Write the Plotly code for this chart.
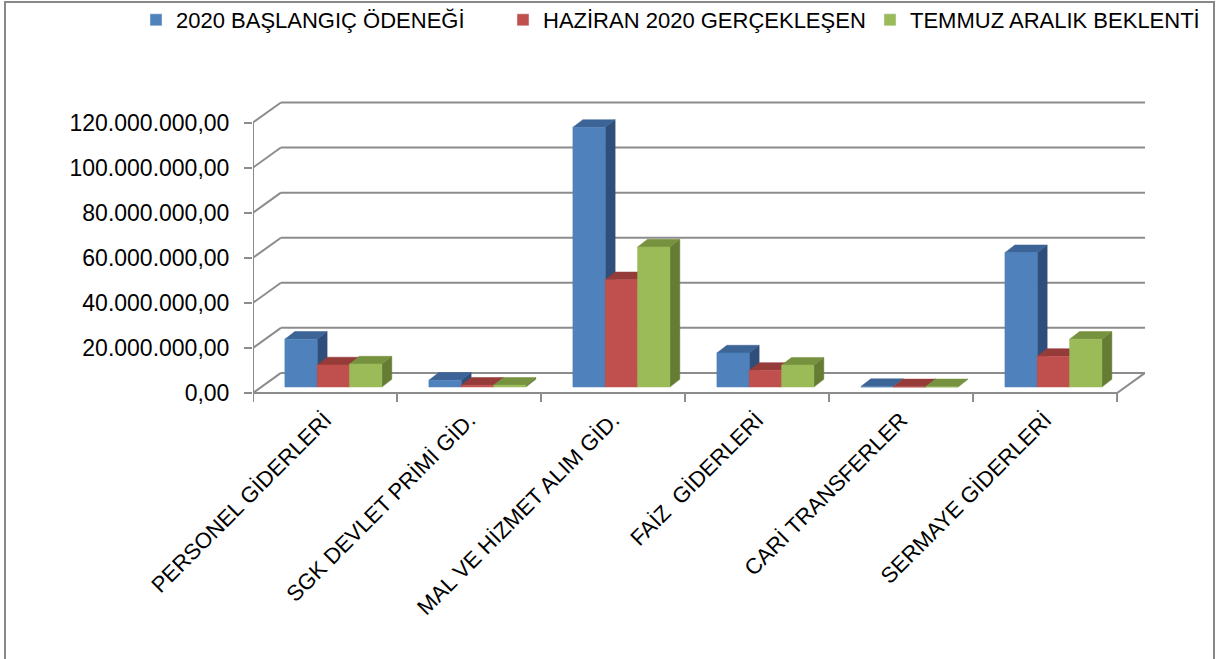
import plotly.graph_objects as go

categories = ["PERSONEL GİDERLERİ", "SGK DEVLET PRİMİ GİD.", "MAL VE HİZMET ALIM GİD.",
              "FAİZ \u00a0GİDERLERİ", "CARİ TRANSFERLER", "SERMAYE GİDERLERİ"]
series_names = ["2020 BAŞLANGIÇ ÖDENEĞİ", "HAZİRAN 2020 GERÇEKLEŞEN", "TEMMUZ ARALIK BEKLENTİ"]
baslangic = [21.2e6, 3.0e6, 115.2e6, 15.1e6, 0.2e6, 59.6e6]
haziran = [9.8e6, 0.8e6, 47.6e6, 7.4e6, 0.1e6, 13.6e6]
temmuz = [10.2e6, 0.8e6, 62.1e6, 9.7e6, 0.1e6, 21.2e6]
tick_vals = [0, 20e6, 40e6, 60e6, 80e6, 100e6, 120e6]
tick_text = ["0,00", "20.000.000,00", "40.000.000,00", "60.000.000,00",
             "80.000.000,00", "100.000.000,00", "120.000.000,00"]

# colours: front, top, side
colors = [("#4F81BD", "#3C6497", "#2F4F7A"),
          ("#C0504D", "#953B39", "#7E302E"),
          ("#9BBB59", "#77923F", "#657C34")]

# pseudo-3D geometry (style constants)
WALL_DX, WALL_DY = 0.194, 8.9e6      # back wall offset
BAR_DX0, BAR_DY0 = 0.058, 2.67e6     # bar front-face depth placement
BAR_DDX, BAR_DDY = 0.069, 3.4e6      # bar depth
BAR_W = 0.2245
GRID = "#8C8C8C"
FONT = "Liberation Sans"

n = len(categories)
x_left, x_right = -0.5, n - 0.5

fig = go.Figure()

def line(xs, ys, width=2):
    fig.add_trace(go.Scatter(x=xs, y=ys, mode="lines", line=dict(color=GRID, width=width),
                             hoverinfo="skip", showlegend=False))

# back wall gridlines + left wall diagonals
gx, gy, dx_, dy_ = [], [], [], []
for t in tick_vals:
    gx += [x_left + WALL_DX, x_right + WALL_DX, None]
    gy += [t + WALL_DY, t + WALL_DY, None]
    dx_ += [x_left, x_left + WALL_DX, None]
    dy_ += [t, t + WALL_DY, None]
line(gx, gy)
line(dx_, dy_)
# front vertical axis line
line([x_left, x_left], [0, tick_vals[-1]])
# floor front edge and right edge
line([x_left, x_right, x_right + WALL_DX], [0, 0, WALL_DY])
# category boundary ticks
cx, cy = [], []
for k in range(n + 1):
    cx += [x_left + k, x_left + k, None]
    cy += [0, -4e6, None]
line(cx, cy)

# bars
all_vals = [baslangic, haziran, temmuz]
for j, vals in enumerate(all_vals):
    cf, ct, cs = colors[j]
    fx, fy, tx, ty, sx, sy = [], [], [], [], [], []
    for i, v in enumerate(vals):
        xl = i + BAR_DX0 + (j - 1.5) * BAR_W
        xr = xl + BAR_W
        b = BAR_DY0
        t = BAR_DY0 + v
        fx += [xl, xr, xr, xl, xl, None]
        fy += [b, b, t, t, b, None]
        tx += [xl, xr, xr + BAR_DDX, xl + BAR_DDX, xl, None]
        ty += [t, t, t + BAR_DDY, t + BAR_DDY, t, None]
        sx += [xr, xr + BAR_DDX, xr + BAR_DDX, xr, xr, None]
        sy += [b, b + BAR_DDY, t + BAR_DDY, t, b, None]
    for xs, ys, c in [(sx, sy, cs), (tx, ty, ct), (fx, fy, cf)]:
        fig.add_trace(go.Scatter(x=xs, y=ys, mode="lines", fill="toself", fillcolor=c,
                                 line=dict(color=c, width=0.5), hoverinfo="skip",
                                 showlegend=False))

# legend entries
for j, name in enumerate(series_names):
    fig.add_trace(go.Bar(x=[None], y=[None], name=name, marker_color=colors[j][0]))

W, H = 1219, 659
ML, MR, MT, MB = 253, 74, 100, 257
PW, PH = W - ML - MR, H - MT - MB
fig.update_layout(
    width=W, height=H,
    margin=dict(l=ML, r=MR, t=MT, b=MB, autoexpand=False),
    paper_bgcolor="white", plot_bgcolor="white",
    font=dict(family=FONT, size=23, color="black"),
    showlegend=True,
    legend=dict(orientation="h", x=(136 - ML) / PW, y=(H - MB + 1) / PH,
                xanchor="left", yanchor="top",
                font=dict(size=22), entrywidth=322, entrywidthmode="pixels",
                bgcolor="rgba(0,0,0,0)"),
    xaxis=dict(type="linear", range=[x_left, x_right + WALL_DX], tickvals=list(range(n)),
               ticktext=categories, tickangle=-45, showgrid=False, zeroline=False,
               showline=False, ticks="", tickfont=dict(size=22), automargin=False),
    yaxis=dict(range=[-4e6, 130e6], tickvals=tick_vals, ticktext=tick_text, showgrid=False,
               zeroline=False, showline=False, ticks="outside", ticklen=8, tickwidth=2,
               tickcolor=GRID, ticklabelstandoff=10, tickfont=dict(size=23), automargin=False),
    shapes=[dict(type="rect", xref="paper", yref="paper",
                 x0=(5 - ML) / PW, x1=(1214 - ML) / PW,
                 y0=(H - MB - 700) / PH, y1=(H - MB - 2) / PH,
                 line=dict(color="#888888", width=2), layer="below")],
)

fig.write_html("out.html", post_script="document.body.style.margin='0';",
               config={"displayModeBar": False})
